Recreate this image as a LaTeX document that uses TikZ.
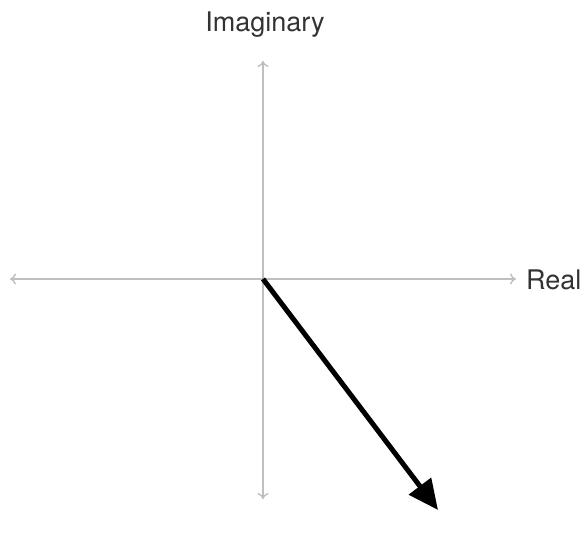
\documentclass[tikz,border=0pt]{standalone}
\usepackage{fontspec}
\setmainfont{TeX Gyre Heros}
\usetikzlibrary{arrows.meta}
\begin{document}
\begin{tikzpicture}[x=1pt,y=-1pt,
  axis/.style={draw=black!25,line width=1.4pt,-{To[length=6pt,width=11pt]}},
  vec/.style={draw=black,line width=5pt,-{Triangle[length=30pt,width=27pt]}},
  lbl/.style={font=\fontsize{27}{31}\selectfont,text=black!80,inner sep=0pt}]
\useasboundingbox (0,0) rectangle (584,542);
\coordinate (o) at (263,279);
\coordinate (l) at (10,279);
\coordinate (r) at (516,279);
\coordinate (t) at (263,61);
\coordinate (b) at (263,499);
\coordinate (v) at (438,510);
\draw[axis] (o) -- (l);
\draw[axis] (o) -- (r);
\draw[axis] (o) -- (t);
\draw[axis] (o) -- (b);
\draw[vec] (o) -- (v);
\node[lbl,anchor=west] (real) at (526,280) {Real};
\node[lbl] (imag) at (265,25) {Imaginary};
\end{tikzpicture}
\end{document}
